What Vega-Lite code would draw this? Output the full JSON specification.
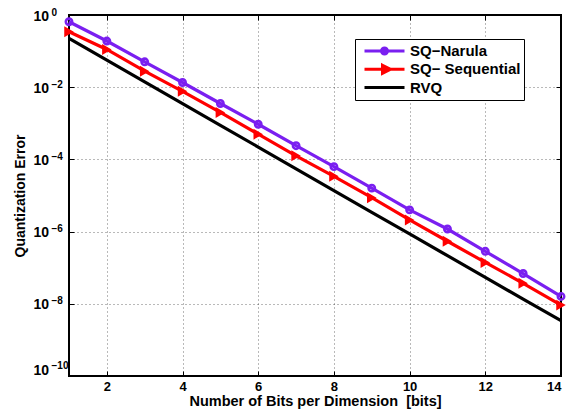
{
  "$schema": "https://vega.github.io/schema/vega-lite/v6.json",
  "width": 492,
  "height": 361,
  "autosize": {"type": "none"},
  "padding": {"left": 69, "top": 15, "right": 13, "bottom": 38},
  "background": "white",
  "config": {
    "view": {"stroke": "black", "strokeWidth": 2},
    "font": "Liberation Sans",
    "axis": {
      "labelFont": "Liberation Sans",
      "labelFontWeight": "bold",
      "labelFontSize": 14,
      "labelColor": "black",
      "titleFont": "Liberation Sans",
      "titleFontWeight": "bold",
      "titleFontSize": 14,
      "titleColor": "black",
      "domain": false,
      "tickColor": "black",
      "tickSize": -5,
      "tickWidth": 1,
      "grid": false,
      "gridColor": "#000000",
      "gridOpacity": 0.55,
      "gridDash": [1, 3],
      "gridWidth": 1
    }
  },
  "data": {
    "values": [
      {"bits": 1, "series": "SQ\u2212Narula", "error": 0.65},
      {"bits": 2, "series": "SQ\u2212Narula", "error": 0.19},
      {"bits": 3, "series": "SQ\u2212Narula", "error": 0.0505},
      {"bits": 4, "series": "SQ\u2212Narula", "error": 0.0135},
      {"bits": 5, "series": "SQ\u2212Narula", "error": 0.00354},
      {"bits": 6, "series": "SQ\u2212Narula", "error": 0.00094},
      {"bits": 7, "series": "SQ\u2212Narula", "error": 0.00024},
      {"bits": 8, "series": "SQ\u2212Narula", "error": 0.000063},
      {"bits": 9, "series": "SQ\u2212Narula", "error": 0.000016},
      {"bits": 10, "series": "SQ\u2212Narula", "error": 0.000004},
      {"bits": 11, "series": "SQ\u2212Narula", "error": 0.00000118},
      {"bits": 12, "series": "SQ\u2212Narula", "error": 0.000000284},
      {"bits": 13, "series": "SQ\u2212Narula", "error": 0.000000069},
      {"bits": 14, "series": "SQ\u2212Narula", "error": 0.000000016},
      {"bits": 1, "series": "SQ\u2212 Sequential", "error": 0.344},
      {"bits": 2, "series": "SQ\u2212 Sequential", "error": 0.111},
      {"bits": 3, "series": "SQ\u2212 Sequential", "error": 0.0278},
      {"bits": 4, "series": "SQ\u2212 Sequential", "error": 0.0077},
      {"bits": 5, "series": "SQ\u2212 Sequential", "error": 0.002},
      {"bits": 6, "series": "SQ\u2212 Sequential", "error": 0.0005},
      {"bits": 7, "series": "SQ\u2212 Sequential", "error": 0.000126},
      {"bits": 8, "series": "SQ\u2212 Sequential", "error": 0.000034},
      {"bits": 9, "series": "SQ\u2212 Sequential", "error": 0.0000087},
      {"bits": 10, "series": "SQ\u2212 Sequential", "error": 0.0000021},
      {"bits": 11, "series": "SQ\u2212 Sequential", "error": 0.00000054},
      {"bits": 12, "series": "SQ\u2212 Sequential", "error": 0.00000014},
      {"bits": 13, "series": "SQ\u2212 Sequential", "error": 0.000000037},
      {"bits": 14, "series": "SQ\u2212 Sequential", "error": 0.0000000092},
      {"bits": 1, "series": "RVQ", "error": 0.225},
      {"bits": 2, "series": "RVQ", "error": 0.0562},
      {"bits": 3, "series": "RVQ", "error": 0.01405},
      {"bits": 4, "series": "RVQ", "error": 0.0035},
      {"bits": 5, "series": "RVQ", "error": 0.00088},
      {"bits": 6, "series": "RVQ", "error": 0.00022},
      {"bits": 7, "series": "RVQ", "error": 0.000055},
      {"bits": 8, "series": "RVQ", "error": 0.0000137},
      {"bits": 9, "series": "RVQ", "error": 0.0000034},
      {"bits": 10, "series": "RVQ", "error": 0.00000086},
      {"bits": 11, "series": "RVQ", "error": 0.000000215},
      {"bits": 12, "series": "RVQ", "error": 0.000000054},
      {"bits": 13, "series": "RVQ", "error": 0.0000000134},
      {"bits": 14, "series": "RVQ", "error": 0.0000000034}
    ]
  },
  "encoding": {
    "color": {
      "field": "series",
      "type": "nominal",
      "scale": {
        "domain": ["SQ\u2212Narula", "SQ\u2212 Sequential", "RVQ"],
        "range": ["#7a1ff0", "#ff0000", "#000000"]
      },
      "legend": {
        "orient": "none",
        "legendX": 286,
        "legendY": 24,
        "title": null,
        "strokeColor": "black",
        "fillColor": "white",
        "padding": 3,
        "symbolOffset": 5,
        "labelFont": "Liberation Sans",
        "labelFontWeight": "bold",
        "labelFontSize": 15,
        "labelColor": "black",
        "labelOffset": 4,
        "symbolSize": 1600,
        "symbolStrokeWidth": 3,
        "clipHeight": 18,
        "rowPadding": 0.3,
        "encode": {
          "symbols": {
            "update": {
              "shape": {"signal": "datum.value === 'RVQ' ? 'M-1,0H1' : datum.value === 'SQ\u2212Narula' ? 'M-1,0H1M0.15,0A0.15,0.15 0 1,1 -0.15,0A0.15,0.15 0 1,1 0.15,0Z' : 'M-1,0H1M-0.1,-0.2L0.3,0L-0.1,0.2Z'"},
              "fill": {"signal": "datum.value === 'RVQ' ? 'transparent' : datum.value === 'SQ\u2212Narula' ? '#7a1ff0' : '#ff0000'"},
              "stroke": {"signal": "datum.value === 'RVQ' ? '#000000' : datum.value === 'SQ\u2212Narula' ? '#7a1ff0' : '#ff0000'"},
              "strokeWidth": {"value": 3},
              "opacity": {"value": 1}
            }
          }
        }
      }
    }
  },
  "layer": [
    {
      "mark": {"type": "line", "strokeWidth": 3.2},
      "encoding": {
        "x": {
          "field": "bits",
          "type": "quantitative",
          "scale": {"domain": [1, 14], "nice": false, "zero": false},
          "axis": {
            "orient": "bottom",
            "title": "Number of Bits per Dimension \u00a0[bits]",
            "titleFontSize": 14.5,
            "labelFontSize": 13,
            "values": [2, 4, 6, 8, 10, 12, 14],
            "labelPadding": 9,
            "titlePadding": 1,
            "grid": true
          }
        },
        "y": {
          "field": "error",
          "type": "quantitative",
          "scale": {"type": "log", "domain": [1e-10, 1], "nice": false},
          "axis": {
            "orient": "left",
            "title": "Quantization Error",
            "values": [1, 0.01, 0.0001, 0.000001, 0.00000001, 1e-10],
            "labelExpr": "'10'",
            "labelAlign": "left",
            "labelBaseline": {"condition": {"test": "datum.value < 1e-9", "value": "bottom"}, "value": "middle"},
            "labelOffset": 1,
            "labelPadding": 41,
            "titlePadding": 6,
            "grid": true
          }
        }
      }
    },
    {
      "transform": [{"filter": "datum.series === 'SQ\u2212Narula'"}],
      "mark": {"type": "point", "shape": "circle", "filled": false, "size": 40, "strokeWidth": 2.6, "opacity": 1},
      "encoding": {
        "x": {"field": "bits", "type": "quantitative", "axis": null},
        "y": {
          "field": "error",
          "type": "quantitative",
          "axis": {
            "orient": "left",
            "title": null,
            "values": [1, 0.01, 0.0001, 0.000001, 0.00000001, 1e-10],
            "labelExpr": "datum.value >= 0.5 ? '0' : datum.value >= 0.005 ? '\u22122' : datum.value >= 0.00005 ? '\u22124' : datum.value >= 0.0000005 ? '\u22126' : datum.value >= 0.000000005 ? '\u22128' : '\u221210'",
            "labelFontSize": 10,
            "labelAlign": "left",
            "labelBaseline": {"condition": {"test": "datum.value < 1e-9", "value": "bottom"}, "value": "middle"},
            "labelOffset": {"condition": {"test": "datum.value < 1e-9", "value": -6}, "value": -3},
            "labelPadding": 18,
            "ticks": false,
            "grid": false,
            "domain": false
          }
        }
      }
    },
    {
      "transform": [{"filter": "datum.series === 'SQ\u2212 Sequential'"}],
      "mark": {"type": "point", "shape": "triangle-right", "filled": true, "size": 120, "opacity": 1},
      "encoding": {
        "x": {
          "field": "bits",
          "type": "quantitative",
          "axis": {"orient": "top", "title": null, "labels": false, "values": [2, 4, 6, 8, 10, 12, 14], "grid": false, "domain": false}
        },
        "y": {
          "field": "error",
          "type": "quantitative",
          "axis": {"orient": "right", "title": null, "labels": false, "values": [1, 0.01, 0.0001, 0.000001, 0.00000001, 1e-10], "grid": false, "domain": false}
        }
      }
    }
  ],
  "resolve": {"axis": {"x": "independent", "y": "independent"}}
}
